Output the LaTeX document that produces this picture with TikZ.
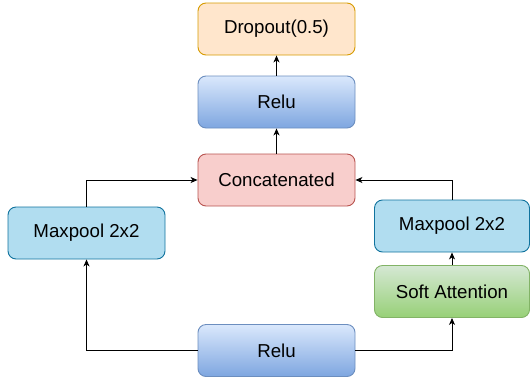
\documentclass[tikz,border=0pt]{standalone}
\usepackage{fontspec}
\setmainfont{Liberation Sans}
\usetikzlibrary{arrows.meta}
\definecolor{dropfill}{HTML}{FFE6CC}
\definecolor{dropline}{HTML}{D79B00}
\definecolor{relutop}{HTML}{DAE8FC}
\definecolor{relubot}{HTML}{7EA6E0}
\definecolor{reluline}{HTML}{6C8EBF}
\definecolor{catfill}{HTML}{F8CECC}
\definecolor{catline}{HTML}{B85450}
\definecolor{mpfill}{HTML}{B1DDF0}
\definecolor{mpline}{HTML}{10739E}
\definecolor{softtop}{HTML}{D5E8D4}
\definecolor{softbot}{HTML}{97D077}
\definecolor{softline}{HTML}{82B366}
\tikzset{
  box/.style={rectangle, rounded corners=8pt, minimum width=157pt, minimum height=52pt,
    line width=0.9pt, inner sep=0pt, font=\fontsize{18.7}{22}\selectfont, text=black},
  dropbox/.style={box, draw=dropline, fill=dropfill},
  relubox/.style={box, draw=reluline, top color=relutop, bottom color=relubot},
  catbox/.style={box, draw=catline, fill=catfill},
  mpbox/.style={box, draw=mpline, fill=mpfill},
  softbox/.style={box, draw=softline, top color=softtop, bottom color=softbot},
  conn/.style={line width=0.9pt, draw=black, -{Stealth[length=7pt,width=6pt,inset=2pt]}}
}
\begin{document}
\begin{tikzpicture}[x=1pt,y=-1pt]
\useasboundingbox (0,0) rectangle (530,381);
\node[dropbox] (drop) at (276.5,29) {Dropout(0.5)};
\node[relubox] (relu1) at (276.5,102) {Relu};
\node[catbox] (cat) at (276.5,180) {Concatenated};
\node[mpbox] (mpL) at (86.5,233) {Maxpool 2x2};
\node[mpbox, minimum width=155pt] (mpR) at (452,226) {Maxpool 2x2};
\node[softbox, minimum width=155pt] (soft) at (452,291.5) {Soft Attention};
\node[relubox] (relu2) at (276.5,350.5) {Relu};
\draw[conn] (cat.north) -- (relu1.south);
\draw[conn] (relu1.north) -- (drop.south);
\draw[conn] (relu2.west) -| (mpL.south);
\draw[conn] (mpL.north) |- (cat.west);
\draw[conn] (relu2.east) -| (soft.south);
\draw[conn] (soft.north) -- (mpR.south);
\draw[conn] (mpR.north) |- (cat.east);
\end{tikzpicture}
\end{document}
